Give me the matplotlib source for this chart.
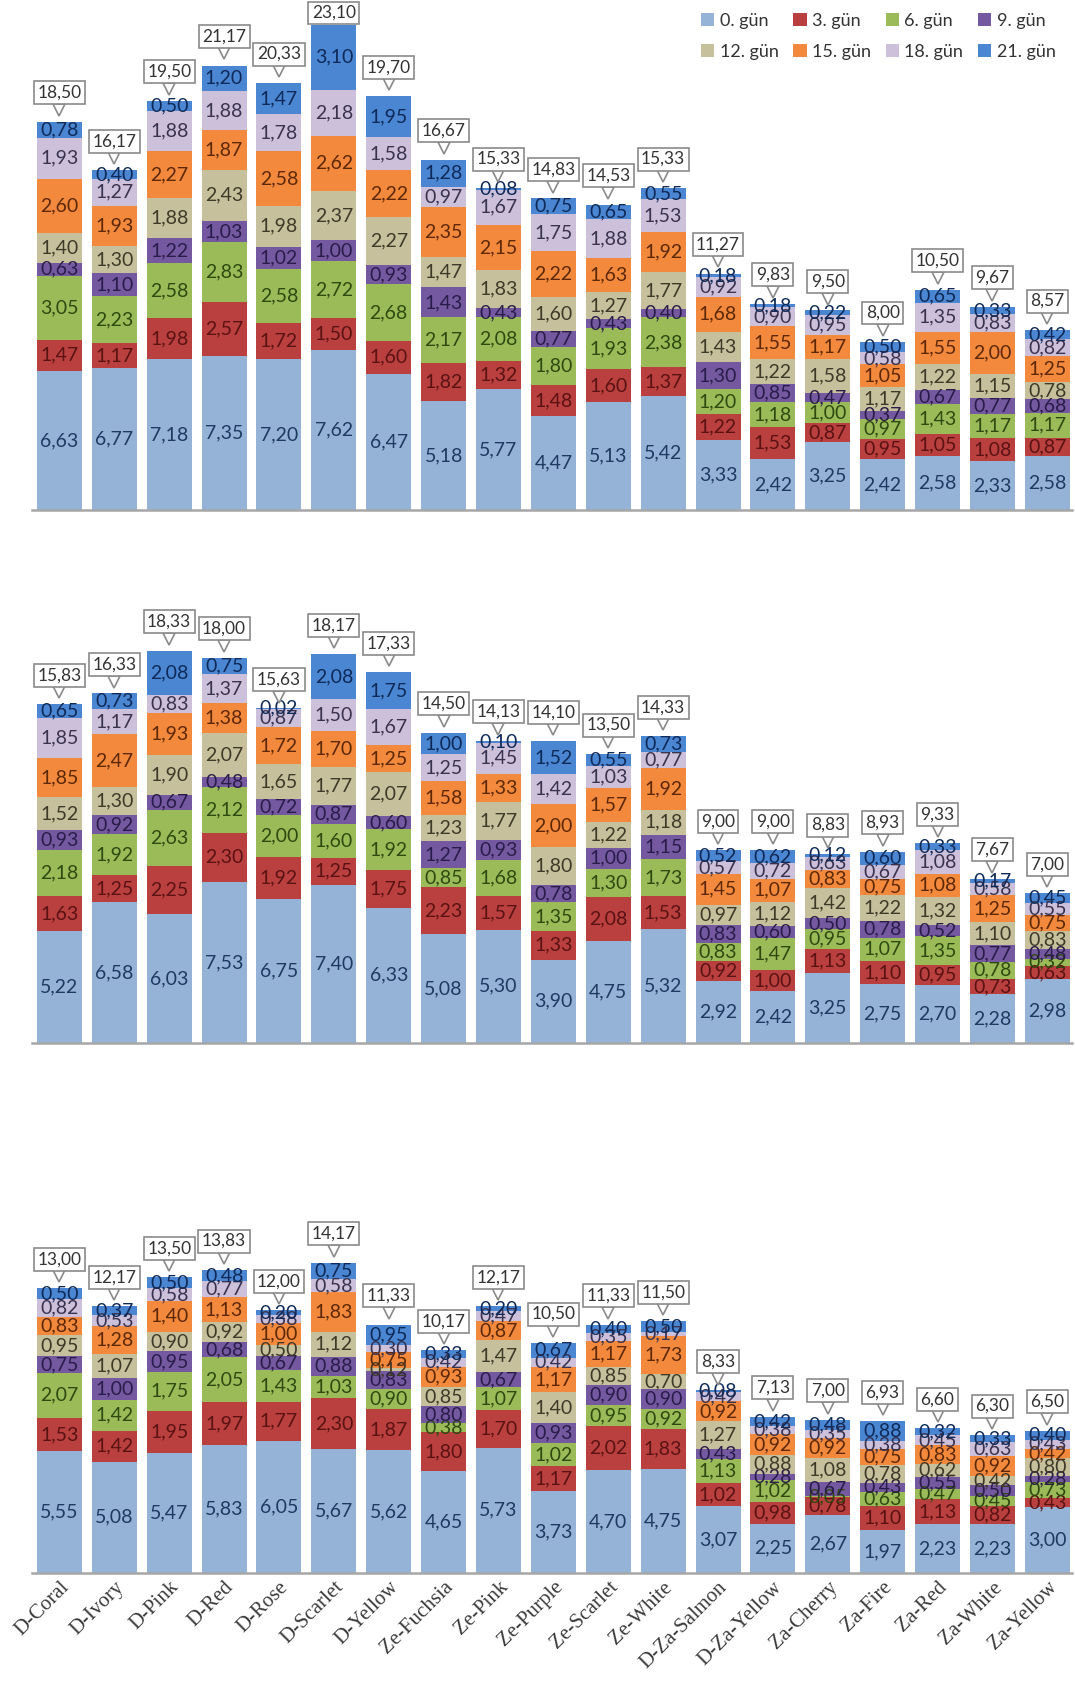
import numpy as np
import matplotlib
matplotlib.use("Agg")
import matplotlib.pyplot as plt
from matplotlib.transforms import offset_copy

categories = ["D-Coral", "D-Ivory", "D-Pink", "D-Red", "D-Rose", "D-Scarlet", "D-Yellow",
              "Ze-Fuchsia", "Ze-Pink", "Ze-Purple", "Ze-Scarlet", "Ze-White",
              "D-Za-Salmon", "D-Za-Yellow", "Za-Cherry", "Za-Fire", "Za-Red", "Za-White", "Za-Yellow"]
series_names = ["0. gün", "3. gün", "6. gün", "9. gün", "12. gün", "15. gün", "18. gün", "21. gün"]

# one row per category, columns = 0., 3., 6., ... 21. gün
p1_values = [
    [6.63, 1.47, 3.05, 0.63, 1.40, 2.60, 1.93, 0.78],
    [6.77, 1.17, 2.23, 1.10, 1.30, 1.93, 1.27, 0.40],
    [7.18, 1.98, 2.58, 1.22, 1.88, 2.27, 1.88, 0.50],
    [7.35, 2.57, 2.83, 1.03, 2.43, 1.87, 1.88, 1.20],
    [7.20, 1.72, 2.58, 1.02, 1.98, 2.58, 1.78, 1.47],
    [7.62, 1.50, 2.72, 1.00, 2.37, 2.62, 2.18, 3.10],
    [6.47, 1.60, 2.68, 0.93, 2.27, 2.22, 1.58, 1.95],
    [5.18, 1.82, 2.17, 1.43, 1.47, 2.35, 0.97, 1.28],
    [5.77, 1.32, 2.08, 0.43, 1.83, 2.15, 1.67, 0.08],
    [4.47, 1.48, 1.80, 0.77, 1.60, 2.22, 1.75, 0.75],
    [5.13, 1.60, 1.93, 0.43, 1.27, 1.63, 1.88, 0.65],
    [5.42, 1.37, 2.38, 0.40, 1.77, 1.92, 1.53, 0.55],
    [3.33, 1.22, 1.20, 1.30, 1.43, 1.68, 0.92, 0.18],
    [2.42, 1.53, 1.18, 0.85, 1.22, 1.55, 0.90, 0.18],
    [3.25, 0.87, 1.00, 0.47, 1.58, 1.17, 0.95, 0.22],
    [2.42, 0.95, 0.97, 0.37, 1.17, 1.05, 0.58, 0.50],
    [2.58, 1.05, 1.43, 0.67, 1.22, 1.55, 1.35, 0.65],
    [2.33, 1.08, 1.17, 0.77, 1.15, 2.00, 0.83, 0.33],
    [2.58, 0.87, 1.17, 0.68, 0.78, 1.25, 0.82, 0.42],
]
p1_totals = [18.50, 16.17, 19.50, 21.17, 20.33, 23.10, 19.70, 16.67, 15.33, 14.83,
             14.53, 15.33, 11.27, 9.83, 9.50, 8.00, 10.50, 9.67, 8.57]

p2_values = [
    [5.22, 1.63, 2.18, 0.93, 1.52, 1.85, 1.85, 0.65],
    [6.58, 1.25, 1.92, 0.92, 1.30, 2.47, 1.17, 0.73],
    [6.03, 2.25, 2.63, 0.67, 1.90, 1.93, 0.83, 2.08],
    [7.53, 2.30, 2.12, 0.48, 2.07, 1.38, 1.37, 0.75],
    [6.75, 1.92, 2.00, 0.72, 1.65, 1.72, 0.87, 0.02],
    [7.40, 1.25, 1.60, 0.87, 1.77, 1.70, 1.50, 2.08],
    [6.33, 1.75, 1.92, 0.60, 2.07, 1.25, 1.67, 1.75],
    [5.08, 2.23, 0.85, 1.27, 1.23, 1.58, 1.25, 1.00],
    [5.30, 1.57, 1.68, 0.93, 1.77, 1.33, 1.45, 0.10],
    [3.90, 1.33, 1.35, 0.78, 1.80, 2.00, 1.42, 1.52],
    [4.75, 2.08, 1.30, 1.00, 1.22, 1.57, 1.03, 0.55],
    [5.32, 1.53, 1.73, 1.15, 1.18, 1.92, 0.77, 0.73],
    [2.92, 0.92, 0.83, 0.83, 0.97, 1.45, 0.57, 0.52],
    [2.42, 1.00, 1.47, 0.60, 1.12, 1.07, 0.72, 0.62],
    [3.25, 1.13, 0.95, 0.50, 1.42, 0.83, 0.63, 0.12],
    [2.75, 1.10, 1.07, 0.78, 1.22, 0.75, 0.67, 0.60],
    [2.70, 0.95, 1.35, 0.52, 1.32, 1.08, 1.08, 0.33],
    [2.28, 0.73, 0.78, 0.77, 1.10, 1.25, 0.58, 0.17],
    [2.98, 0.63, 0.32, 0.48, 0.83, 0.75, 0.55, 0.45],
]
p2_totals = [15.83, 16.33, 18.33, 18.00, 15.63, 18.17, 17.33, 14.50, 14.13, 14.10,
             13.50, 14.33, 9.00, 9.00, 8.83, 8.93, 9.33, 7.67, 7.00]

p3_values = [
    [5.55, 1.53, 2.07, 0.75, 0.95, 0.83, 0.82, 0.50],
    [5.08, 1.42, 1.42, 1.00, 1.07, 1.28, 0.53, 0.37],
    [5.47, 1.95, 1.75, 0.95, 0.90, 1.40, 0.58, 0.50],
    [5.83, 1.97, 2.05, 0.68, 0.92, 1.13, 0.77, 0.48],
    [6.05, 1.77, 1.43, 0.67, 0.50, 1.00, 0.38, 0.20],
    [5.67, 2.30, 1.03, 0.88, 1.12, 1.83, 0.58, 0.75],
    [5.62, 1.87, 0.90, 0.83, 0.12, 0.75, 0.30, 0.95],
    [4.65, 1.80, 0.38, 0.80, 0.85, 0.93, 0.42, 0.33],
    [5.73, 1.70, 1.07, 0.67, 1.47, 0.87, 0.47, 0.20],
    [3.73, 1.17, 1.02, 0.93, 1.40, 1.17, 0.42, 0.67],
    [4.70, 2.02, 0.95, 0.90, 0.85, 1.17, 0.35, 0.40],
    [4.75, 1.83, 0.92, 0.90, 0.70, 1.73, 0.17, 0.50],
    [3.07, 1.02, 1.13, 0.43, 1.27, 0.92, 0.42, 0.08],
    [2.25, 0.98, 1.02, 0.28, 0.88, 0.92, 0.38, 0.42],
    [2.67, 0.78, 0.05, 0.67, 1.08, 0.92, 0.35, 0.48],
    [1.97, 1.10, 0.63, 0.43, 0.78, 0.75, 0.38, 0.88],
    [2.23, 1.13, 0.47, 0.55, 0.62, 0.83, 0.45, 0.32],
    [2.23, 0.82, 0.45, 0.50, 0.42, 0.92, 0.63, 0.33],
    [3.00, 0.43, 0.73, 0.28, 0.80, 0.42, 0.43, 0.40],
]
p3_totals = [13.00, 12.17, 13.50, 13.83, 12.00, 14.17, 11.33, 10.17, 12.17, 10.50,
             11.33, 11.50, 8.33, 7.13, 7.00, 6.93, 6.60, 6.30, 6.50]

colors = ["#95B3D7", "#B9403E", "#9BBB59", "#7559A0", "#C6C09D", "#F2893C", "#CCC0DB", "#4A86D2"]
label_colors = ["#1F3A60", "#5A1212", "#2E4A10", "#2A1C4A", "#3E3A28", "#5E2805", "#3A3350", "#0F2A58"]

W, H = 1075, 1689
fig = plt.figure(figsize=(W / 100, H / 100), dpi=100)

# (top px, baseline px, px per unit)
layout = [(0, 510, 21.0), (600, 1043, 21.4), (1150, 1573, 21.9)]
panels = [(p1_values, p1_totals), (p2_values, p2_totals), (p3_values, p3_totals)]

x = np.arange(len(categories))
fmt = lambda v: f"{v:.2f}".replace(".", ",")

axes = []
for k, ((vals, totals), (top, base, scale)) in enumerate(zip(panels, layout)):
    ax = fig.add_axes([32 / W, 1 - base / H, 1040 / W, (base - top) / H])
    axes.append(ax)
    data = np.array(vals).T
    bottom = np.zeros(len(categories))
    for s in range(len(series_names)):
        ax.bar(x, data[s], 0.82, bottom=bottom, color=colors[s], label=series_names[s], zorder=2)
        for i in range(len(categories)):
            ax.text(x[i], bottom[i] + data[s][i] / 2, fmt(data[s][i]), ha="center", va="center",
                    fontsize=14, family="Lato", color=label_colors[s], zorder=3)
        bottom += data[s]

    # callout boxes with totals (kept inside the figure like Excel does)
    trans = offset_copy(ax.transData, fig=fig, x=0, y=12, units="dots")
    ax.plot(x, totals, "v", ms=8, mfc="white", mec="#8a8a8a", mew=1.2, transform=trans,
            clip_on=False, zorder=4, ls="none")
    for i in range(len(categories)):
        bar_top_px = base - totals[i] * scale
        off = min(29, bar_top_px - 13)
        ax.annotate(fmt(totals[i]), xy=(x[i], totals[i]), xytext=(0, off), textcoords="offset pixels",
                    ha="center", va="center", fontsize=12.5, family="Lato", color="#333333",
                    bbox=dict(boxstyle="square,pad=0.2", fc="white", ec="#8a8a8a", lw=1.2),
                    annotation_clip=False, zorder=5)

    ax.set_xlim(-0.5, 18.45)
    ax.set_ylim(0, (base - top) / scale)
    for sp in ["top", "right", "left"]:
        ax.spines[sp].set_visible(False)
    ax.spines["bottom"].set_color("#A6A6A6")
    ax.spines["bottom"].set_linewidth(1.8)
    ax.set_yticks([])
    ax.set_xticks(x)
    ax.tick_params(axis="x", length=0)
    if k < 2:
        ax.set_xticklabels([])
    else:
        ax.set_xticklabels(categories, rotation=45, ha="right", rotation_mode="anchor",
                           fontsize=15, family="Liberation Serif", color="#3a3a3a")

handles, labels = axes[0].get_legend_handles_labels()
order = [0, 4, 1, 5, 2, 6, 3, 7]
fig.legend([handles[i] for i in order], [labels[i] for i in order], ncol=4, frameon=False,
           loc="upper left", bbox_to_anchor=(690 / W, 1 - 2 / H), borderaxespad=0.2,
           prop={"family": "Lato", "size": 13}, handlelength=0.75, handleheight=0.75,
           handletextpad=0.3, columnspacing=0.8, labelspacing=0.85, labelcolor="#333333")

fig.savefig("out.png", dpi=100)
